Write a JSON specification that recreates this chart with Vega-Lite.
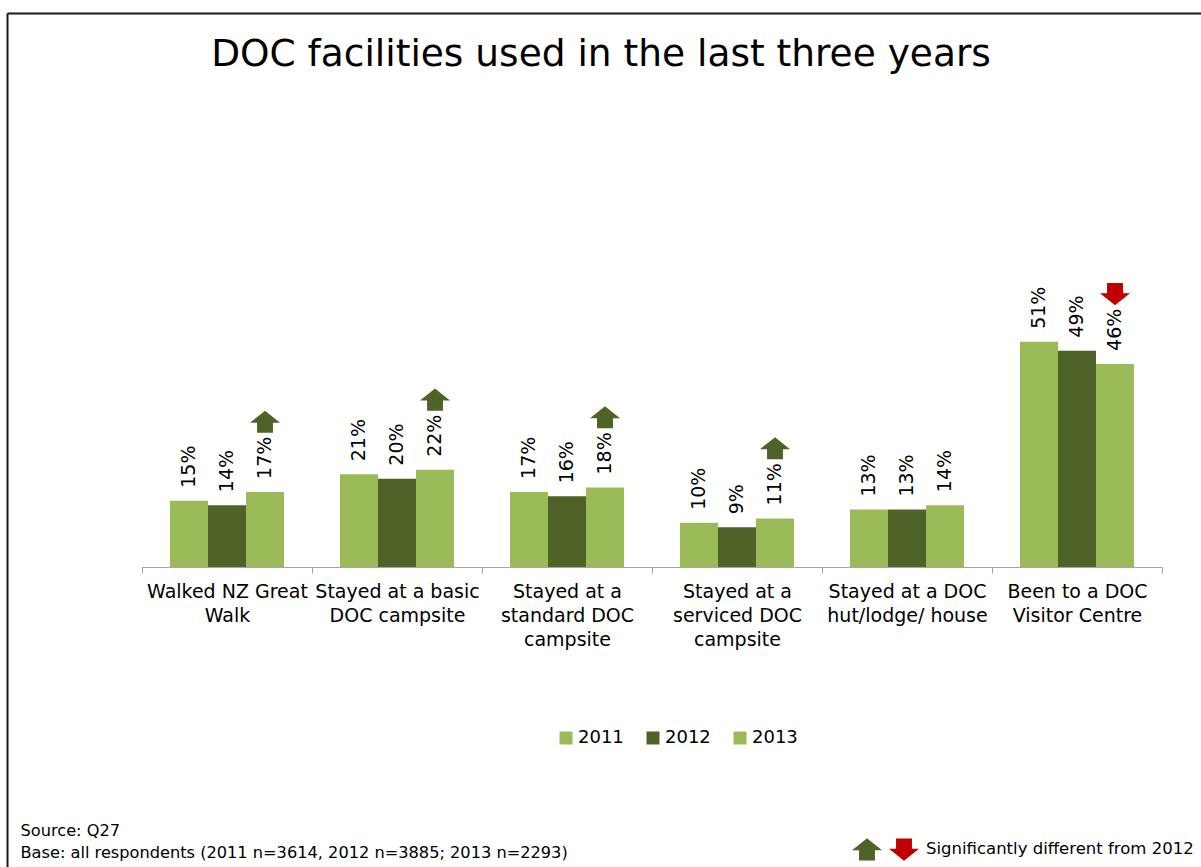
{
  "$schema": "https://vega.github.io/schema/vega-lite/v6.json",
  "width": 1194,
  "height": 854,
  "autosize": "none",
  "padding": {"left": 7, "top": 13, "right": 0, "bottom": 0},
  "background": "white",
  "config": {"view": {"stroke": null}, "font": "DejaVu Sans"},
  "title": {
    "text": "DOC facilities used in the last three years",
    "frame": "group",
    "anchor": "middle",
    "orient": "top",
    "baseline": "alphabetic",
    "offset": -52,
    "dx": -3,
    "dy": 38,
    "fontSize": 37.5,
    "fontWeight": "normal",
    "font": "DejaVu Sans",
    "color": "#000000"
  },
  "data": {
    "values": [
      {"category": "Walked NZ Great Walk", "year": "2011", "value": 15},
      {"category": "Walked NZ Great Walk", "year": "2012", "value": 14},
      {"category": "Walked NZ Great Walk", "year": "2013", "value": 17, "sig": "up"},
      {"category": "Stayed at a basic DOC campsite", "year": "2011", "value": 21},
      {"category": "Stayed at a basic DOC campsite", "year": "2012", "value": 20},
      {"category": "Stayed at a basic DOC campsite", "year": "2013", "value": 22, "sig": "up"},
      {"category": "Stayed at a standard DOC campsite", "year": "2011", "value": 17},
      {"category": "Stayed at a standard DOC campsite", "year": "2012", "value": 16},
      {"category": "Stayed at a standard DOC campsite", "year": "2013", "value": 18, "sig": "up"},
      {"category": "Stayed at a serviced DOC campsite", "year": "2011", "value": 10},
      {"category": "Stayed at a serviced DOC campsite", "year": "2012", "value": 9},
      {"category": "Stayed at a serviced DOC campsite", "year": "2013", "value": 11, "sig": "up"},
      {"category": "Stayed at a DOC hut/lodge/ house", "year": "2011", "value": 13},
      {"category": "Stayed at a DOC hut/lodge/ house", "year": "2012", "value": 13},
      {"category": "Stayed at a DOC hut/lodge/ house", "year": "2013", "value": 14},
      {"category": "Been to a DOC Visitor Centre", "year": "2011", "value": 51},
      {"category": "Been to a DOC Visitor Centre", "year": "2012", "value": 49},
      {"category": "Been to a DOC Visitor Centre", "year": "2013", "value": 46, "sig": "down"}
    ]
  },
  "encoding": {
    "x": {
      "field": "category",
      "type": "nominal",
      "sort": null,
      "scale": {"paddingInner": 0, "paddingOuter": 0.51176, "align": 0.7759},
      "axis": {
        "orient": "bottom",
        "offset": -300,
        "domain": false,
        "grid": false,
        "ticks": true,
        "tickBand": "extent",
        "tickSize": 6,
        "tickColor": "#A0A0A0",
        "tickWidth": 1,
        "labelAngle": 0,
        "labelFont": "DejaVu Sans",
        "labelFontSize": 19,
        "labelColor": "#000000",
        "labelPadding": 9,
        "labelLineHeight": 24,
        "labelOverlap": false,
        "labelLimit": 0,
        "labelBound": false,
        "labelExpr": "datum.value == 'Walked NZ Great Walk' ? ['Walked NZ Great', 'Walk'] : datum.value == 'Stayed at a basic DOC campsite' ? ['Stayed at a basic', 'DOC campsite'] : datum.value == 'Stayed at a standard DOC campsite' ? ['Stayed at a', 'standard DOC', 'campsite'] : datum.value == 'Stayed at a serviced DOC campsite' ? ['Stayed at a', 'serviced DOC', 'campsite'] : datum.value == 'Stayed at a DOC hut/lodge/ house' ? ['Stayed at a DOC', 'hut/lodge/ house'] : datum.value == 'Been to a DOC Visitor Centre' ? ['Been to a DOC', 'Visitor Centre'] : ''",
        "title": ["Source: Q27", "Base: all respondents (2011 n=3614, 2012 n=3885; 2013 n=2293)"],
        "titleFont": "DejaVu Sans",
        "titleFontSize": 16.2,
        "titleFontWeight": "normal",
        "titleColor": "#000000",
        "titleAnchor": "start",
        "titleAlign": "left",
        "titleBaseline": "alphabetic",
        "titleAngle": 0,
        "titleX": 13,
        "titleY": 268,
        "titleLineHeight": 22.5
      }
    },
    "y": {
      "field": "value",
      "type": "quantitative",
      "scale": {"domain": [-67.95, 125.48], "zero": false, "nice": false},
      "axis": {
        "orient": "left",
        "domain": true,
        "domainColor": "#1a1a1a",
        "domainWidth": 2,
        "ticks": false,
        "labels": false,
        "grid": true,
        "gridColor": "#1a1a1a",
        "gridWidth": 2,
        "values": [125.48],
        "title": null
      }
    }
  },
  "layer": [
    {
      "mark": {"type": "bar", "color": "#A6A6A6"},
      "encoding": {
        "y": {"datum": 0, "type": "quantitative"},
        "y2": {"datum": -0.25}
      }
    },
    {
      "mark": {"type": "bar", "strokeWidth": 0},
      "encoding": {
        "xOffset": {
          "field": "year",
          "type": "nominal",
          "scale": {"paddingInner": 0, "paddingOuter": 0.7368}
        },
        "color": {
          "field": "year",
          "type": "nominal",
          "scale": {"domain": ["2011", "2012", "2013"], "range": ["#9BBB59", "#4F6228", "#9BBB59"]},
          "legend": {
            "orient": "none",
            "legendX": 550,
            "legendY": 716,
            "direction": "horizontal",
            "title": null,
            "symbolType": "square",
            "symbolSize": 169,
            "symbolStrokeWidth": 0,
            "labelFont": "DejaVu Sans",
            "labelFontSize": 18,
            "labelColor": "#000000",
            "labelOffset": 3,
            "columnPadding": 20,
            "padding": 0
          }
        }
      }
    },
    {
      "mark": {
        "type": "text",
        "angle": 270,
        "align": "left",
        "baseline": "middle",
        "dx": 13,
        "font": "DejaVu Sans",
        "fontSize": 19,
        "color": "#000000",
        "text": {"expr": "datum.value + '%'"}
      },
      "encoding": {
        "xOffset": {"field": "year", "type": "nominal"}
      }
    },
    {
      "transform": [{"filter": "isValid(datum.sig)"}],
      "mark": {"type": "point", "filled": true, "size": 900, "strokeWidth": 0, "opacity": 1, "yOffset": -70},
      "encoding": {
        "xOffset": {"field": "year", "type": "nominal"},
        "shape": {
          "field": "sig",
          "type": "nominal",
          "scale": {
            "domain": ["up", "down"],
            "range": [
              "M0,-0.75L1,0.05L0.53,0.05L0.53,0.72L-0.53,0.72L-0.53,0.05L-1,0.05Z",
              "M0,0.75L1,-0.05L0.53,-0.05L0.53,-0.72L-0.53,-0.72L-0.53,-0.05L-1,-0.05Z"
            ]
          },
          "legend": {
            "orient": "none",
            "legendX": 845,
            "legendY": 821,
            "direction": "horizontal",
            "title": null,
            "labelExpr": "datum.label == 'down' ? 'Significantly different from 2012' : ''",
            "labelFont": "DejaVu Sans",
            "labelFontSize": 16.5,
            "labelColor": "#000000",
            "labelLimit": 0,
            "symbolSize": 900,
            "symbolStrokeWidth": 0,
            "symbolOpacity": 1,
            "labelOffset": 7,
            "columnPadding": 0,
            "padding": 0
          }
        },
        "fill": {
          "field": "sig",
          "type": "nominal",
          "scale": {"domain": ["up", "down"], "range": ["#4F6228", "#C00000"]},
          "legend": {
            "orient": "none",
            "legendX": 845,
            "legendY": 821,
            "direction": "horizontal",
            "title": null,
            "labelExpr": "datum.label == 'down' ? 'Significantly different from 2012' : ''",
            "labelFont": "DejaVu Sans",
            "labelFontSize": 16.5,
            "labelColor": "#000000",
            "labelLimit": 0,
            "symbolSize": 900,
            "symbolStrokeWidth": 0,
            "symbolOpacity": 1,
            "labelOffset": 7,
            "columnPadding": 0,
            "padding": 0
          }
        }
      }
    }
  ]
}
